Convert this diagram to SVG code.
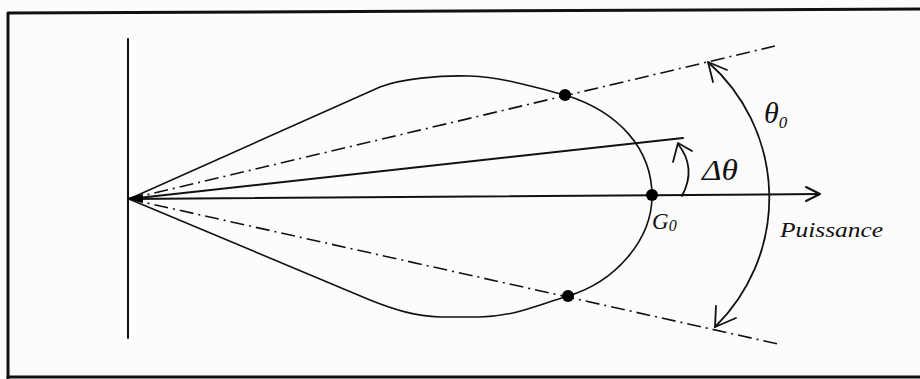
<svg xmlns="http://www.w3.org/2000/svg" width="920" height="379" viewBox="0 0 920 379">
<style>
.ln{fill:none;stroke:#111;stroke-linecap:round;stroke-linejoin:round}
.dd{fill:none;stroke:#111;stroke-width:1.6;stroke-dasharray:14 5 2 5}
.lbl{font-family:"Liberation Serif","Times New Roman",serif;font-style:italic;fill:#111}
.dot{fill:#000}
</style>
<rect x="0" y="0" width="920" height="379" fill="#fcfcfc"/>
<g id="frame">
<path class="ln" d="M8,379 L8,13 L920,9" stroke-width="3"/>
<path class="ln" d="M8,377 L920,377" stroke-width="3"/>
</g>
<g id="axes">
<line class="ln" x1="128" y1="39" x2="128" y2="338" stroke-width="2"/>
<line class="ln" x1="129" y1="199" x2="819" y2="194" stroke-width="2"/>
<polyline class="ln" points="806,187 820,194 806,201" stroke-width="2"/>
</g>
<g id="lobe">
<path class="ln" stroke-width="1.6" d="M129,199 L380,87 C400,79 440,75 470,76 C500,77 530,86 565,95 C620,112 652,150 652,196 C652,240 615,282 568,296 C535,306 515,316 480,317 L440,317 C415,316 395,310 370,300 Z"/>
</g>
<g id="connectors">
<line class="dd" x1="129" y1="199" x2="775" y2="46"/>
<line class="dd" x1="129" y1="199" x2="778" y2="344"/>
<line class="ln" x1="129" y1="199" x2="683" y2="138" stroke-width="2"/>
<path class="ln" stroke-width="1.8" d="M708,62 A181,181 0 0 1 715,327"/>
<polyline class="ln" stroke-width="1.8" points="713,82 708,62 727,70"/>
<polyline class="ln" stroke-width="1.8" points="716,306 715,327 736,318"/>
<path class="ln" stroke-width="1.8" d="M682,196 Q697,168 678,144"/>
<polyline class="ln" stroke-width="1.8" points="673,162 678,143 692,151"/>
</g>
<g id="points">
<circle class="dot" cx="565" cy="95" r="6"/>
<circle class="dot" cx="652" cy="195" r="6"/>
<circle class="dot" cx="568" cy="296" r="6"/>
<path class="dot" d="M127,198 L143,194 L143,203 Z"/>
</g>
<g id="labels">
<text class="lbl" x="652" y="229" font-size="23" font-style="normal">G<tspan font-size="16" font-style="italic" dy="2">0</tspan></text>
<text class="lbl" x="702" y="180" font-size="29" textLength="36" lengthAdjust="spacingAndGlyphs">Δθ</text>
<text class="lbl" x="764" y="123" font-size="30">θ<tspan font-size="17" dy="5">0</tspan></text>
<text class="lbl" x="780" y="237" font-size="20" textLength="103" lengthAdjust="spacingAndGlyphs">Puissance</text>
</g>
</svg>
